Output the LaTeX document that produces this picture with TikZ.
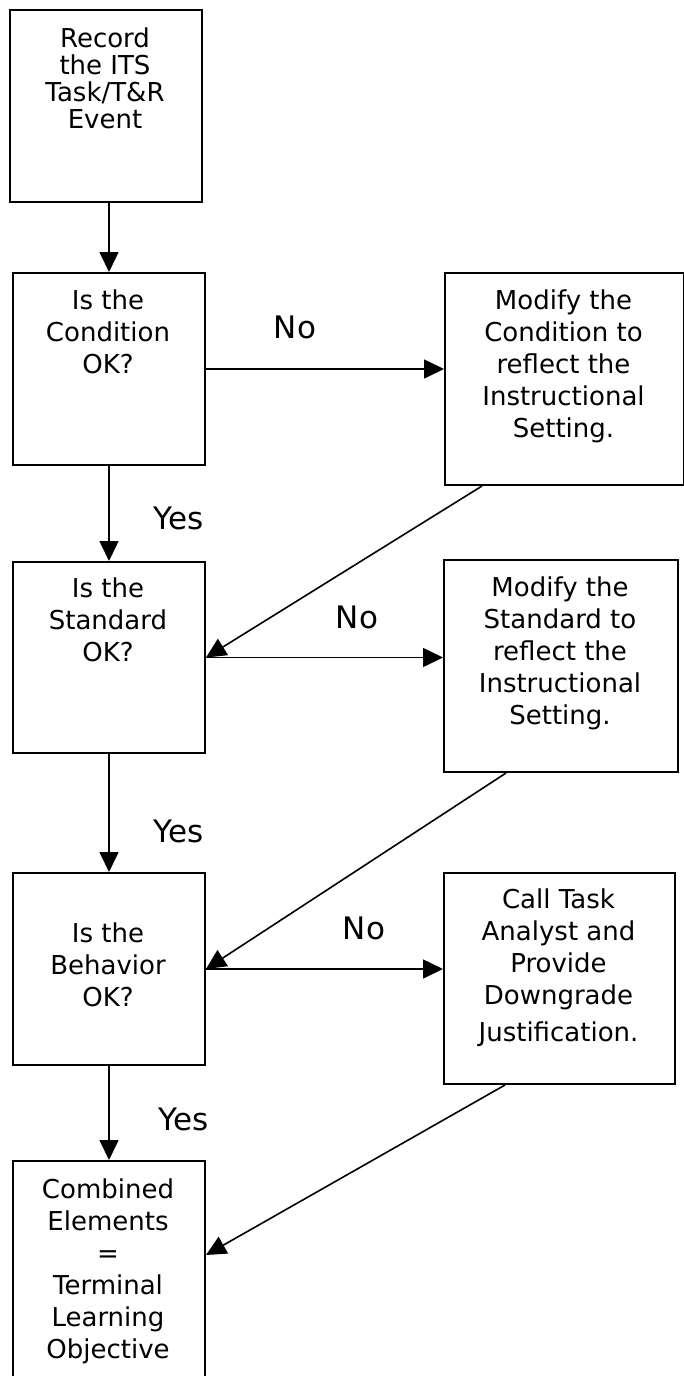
\documentclass[tikz,border=0pt]{standalone}
\usepackage{fontspec}
\setmainfont{DejaVu Sans}
\usetikzlibrary{arrows.meta}
% text sizes: box text, tighter box text, branch answers
\newcommand\boxfont{\fontsize{26}{32}\selectfont}
\newcommand\tightfont{\fontsize{26}{27}\selectfont}
\newcommand\answerfont{\fontsize{31}{36}\selectfont}
% fixed-height strut so the first baseline sits at a known depth below the node top
\newcommand\firstline{\rule{0pt}{24pt}}

\begin{document}
\begin{tikzpicture}[x=1pt,y=-1pt,
  stepbox/.style={draw, line width=2pt, rectangle, inner sep=0pt, anchor=north west},
  boxtext/.style={anchor=north, inner sep=0pt, align=center, font=\boxfont},
  answer/.style={inner sep=0pt, font=\answerfont},
  flow/.style={line width=1.6pt, -{Triangle[length=20pt,width=19pt]}},
]
\useasboundingbox (0,0) rectangle (684,1376);

% boxes
\node[stepbox, minimum width=192pt, minimum height=192pt] (box1) at (9,9) {};
\node[stepbox, minimum width=192pt, minimum height=192pt] (box2) at (12,272) {};
\node[stepbox, minimum width=239pt, minimum height=212pt] (mod1) at (444,272) {};
\node[stepbox, minimum width=192pt, minimum height=191pt] (box3) at (12,561) {};
\node[stepbox, minimum width=234pt, minimum height=212pt] (mod2) at (443,559) {};
\node[stepbox, minimum width=192pt, minimum height=192pt] (box4) at (12,872) {};
\node[stepbox, minimum width=231pt, minimum height=211pt] (call) at (443,872) {};
\node[stepbox, minimum width=192pt, minimum height=230pt] (box5) at (12,1160) {};

% box texts
\node[boxtext, font=\tightfont] (t1) at (105,23) {\firstline Record\\the ITS\\Task/T\&R\\Event};
\node[boxtext] (t2) at (108,285) {\firstline Is the\\Condition\\OK?};
\node[boxtext] (tm1) at (563.5,285) {\firstline Modify the\\Condition to\\reflect the\\Instructional\\Setting.};
\node[boxtext] (t3) at (108,573) {\firstline Is the\\Standard\\OK?};
\node[boxtext] (tm2) at (560,572) {\firstline Modify the\\Standard to\\reflect the\\Instructional\\Setting.};
\node[boxtext] (t4) at (108,918) {\firstline Is the\\Behavior\\OK?};
\node[boxtext] (tc) at (558.5,884) {\firstline Call Task\\Analyst and\\Provide\\Downgrade\\[5pt]Justification.};
\node[boxtext] (t5) at (108,1174) {\firstline Combined\\Elements\\=\\Terminal\\Learning\\Objective};

% branch answers
\node[answer] (no1) at (295,327) {No};
\node[answer] (yes1) at (179,518) {Yes};
\node[answer] (no2) at (357,617) {No};
\node[answer] (yes2) at (179,831) {Yes};
\node[answer] (no3) at (364,928) {No};
\node[answer] (yes3) at (184,1119) {Yes};

% main column
\draw[flow] (box2.north |- box1.south) -- (box2.north);
\draw[flow] (box2.south) -- (box3.north);
\draw[flow] (box3.south) -- (box4.north);
\draw[flow] (box4.south) -- (box5.north);

% "No" branches
\draw[flow] (box2.east) -- (box2.east -| mod1.west);
\draw[flow] (box3.east) -- (box3.east -| mod2.west);
\draw[flow] (box4.east) -- (box4.east -| call.west);

% returns to the next check
\draw[flow] ([xshift=38pt]mod1.south west) -- (box3.east);
\draw[flow] ([xshift=63pt]mod2.south west) -- (box4.east);
\draw[flow] ([xshift=62pt]call.south west) -- ([yshift=-95pt]box5.north east);
\end{tikzpicture}
\end{document}
